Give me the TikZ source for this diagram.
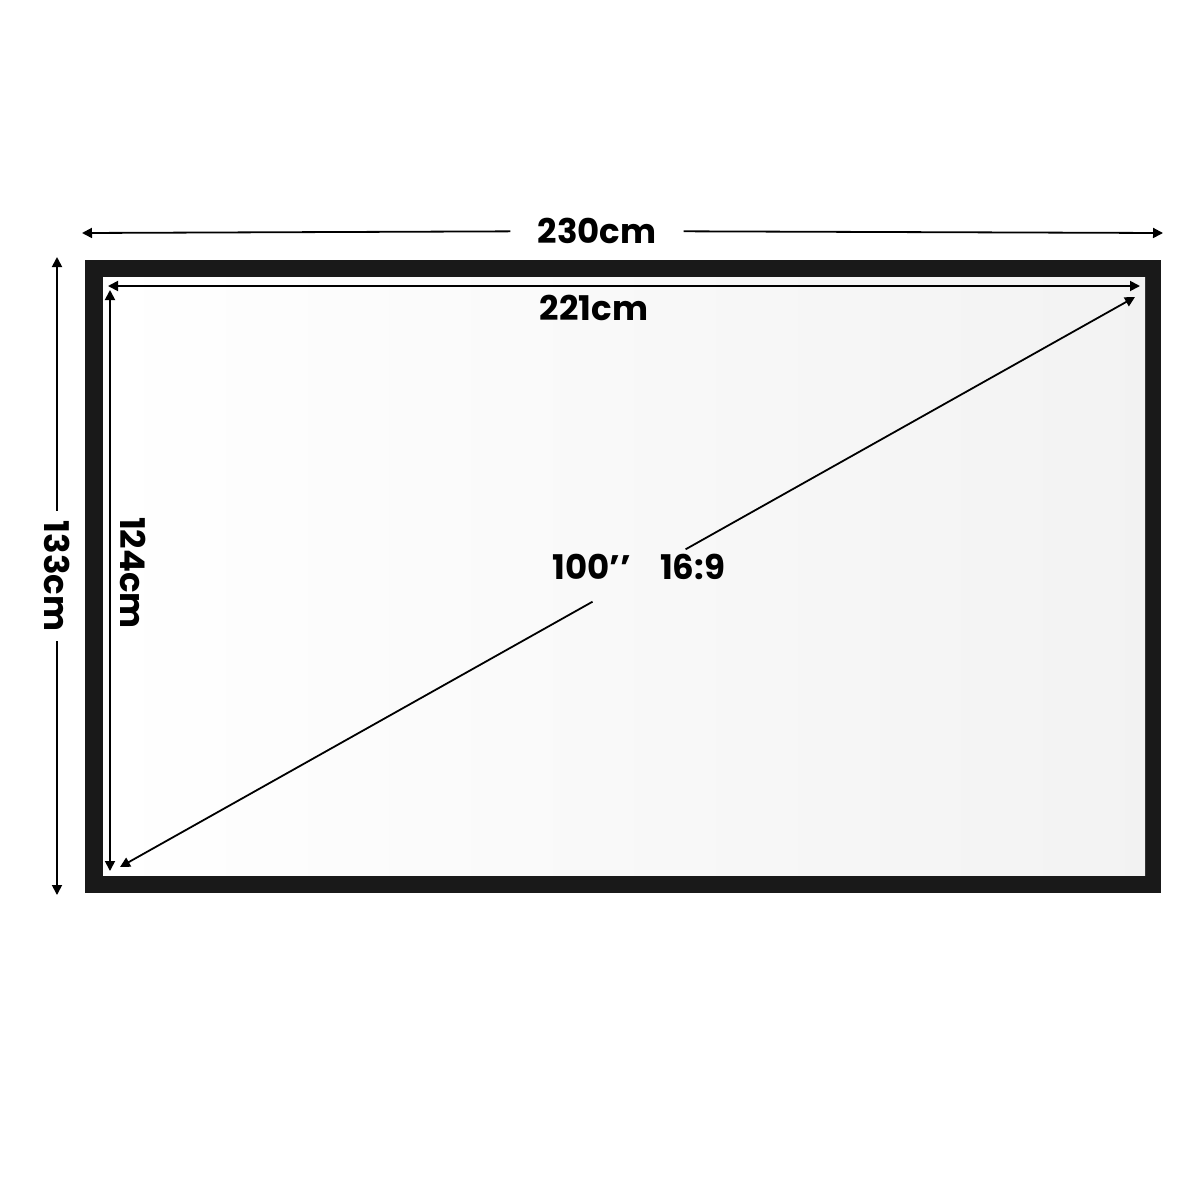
\documentclass[tikz,border=0pt]{standalone}
\usepackage{fontspec}
\setmainfont{Poppins}
\usetikzlibrary{arrows.meta}

\tikzset{
	dimline/.style={line width=1.8pt, -{Triangle[length=10pt,width=10pt]}},
	dimboth/.style={line width=1.8pt, {Triangle[length=10pt,width=10pt]}-{Triangle[length=10pt,width=10pt]}},
	dimlabel/.style={font=\fontsize{34}{40}\selectfont\bfseries, inner sep=0pt},
}

\begin{document}
\begin{tikzpicture}[x=1pt, y=-1pt]
			\useasboundingbox[fill=white] (0, 0) rectangle (1200, 1200);
			
			%Frame
			\fill[black!90] (85, 260) rectangle (1161, 893);
			\fill[left color=white, right color=black!5] (103, 277) rectangle (1145, 875);
			
			%Arrow ends
			\coordinate (wl) at (82, 233);
			\coordinate (wr) at (1163, 233);
			\coordinate (ht) at (57, 257);
			\coordinate (hb) at (57, 895);
			\coordinate (iwl) at (108, 286);
			\coordinate (iwr) at (1140, 286);
			\coordinate (iht) at (110, 290);
			\coordinate (ihb) at (110, 871);
			\coordinate (dl) at (120, 867);
			\coordinate (du) at (1135, 297);
			
			%Labels
			\node[dimlabel, inner xsep=27pt] (w230) at (597, 231) {230cm};
			\node[dimlabel, inner xsep=10pt, rotate=-90] (h133) at (57, 576) {133cm};
			\node[dimlabel] (w221) at (594, 308) {221cm};
			\node[dimlabel, rotate=-90] (h124) at (133, 573) {124cm};
			\node[dimlabel, text height=29.5pt, text depth=22.5pt] (diag) at (639, 575.5) {100’’\hspace{29pt}16:9};
			
			%Outer size
			\draw[dimline] (w230) -- (wl);
			\draw[dimline] (w230) -- (wr);
			\draw[dimline] (h133) -- (ht);
			\draw[dimline] (h133) -- (hb);
			
			%Screen size
			\draw[dimboth] (iwl) -- (iwr);
			\draw[dimboth] (iht) -- (ihb);
			\draw[dimline] (diag) -- (dl);
			\draw[dimline] (diag) -- (du);
\end{tikzpicture}
\end{document}
